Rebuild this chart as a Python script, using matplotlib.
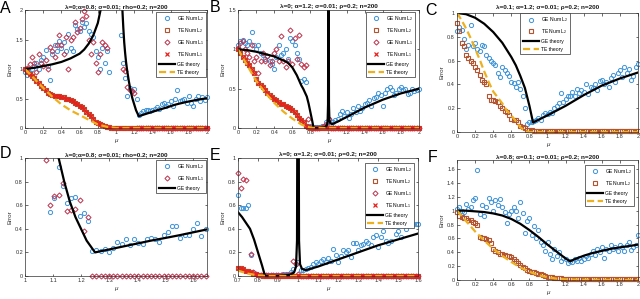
import numpy as np
import matplotlib
matplotlib.use('Agg')
import matplotlib.pyplot as plt
from matplotlib.ticker import FuncFormatter, MultipleLocator
from matplotlib.patches import Rectangle

plt.rcParams['font.family'] = ['Liberation Sans', 'DejaVu Sans']
plt.rcParams['mathtext.fontset'] = 'custom'
plt.rcParams['mathtext.rm'] = 'Liberation Sans'
plt.rcParams['mathtext.it'] = 'Liberation Sans:italic'

# mu grids
mu_full = np.linspace(0, 2, 81)
mu_d = np.linspace(1.075, 1.645, 39)
mu_e = np.linspace(0.7, 1.6, 73)

# ---- panel A (lambda=0, alpha=0.8) ----
a_ge_l2 = [0.95, 0.90, 0.93, 1.00, 1.05, 1.10, 1.00, 1.15,
           1.20, 1.33, 1.05, 0.82, 1.25, 1.40, 1.30, 1.47,
           1.35, 1.45, 1.30, 1.60, 1.35, 1.30, 1.75, 1.68,
           1.65, 1.80, 1.72, 1.78, 1.65, 1.60, 1.55, 1.30,
           1.20, 1.00, 1.35, 1.10, 1.30, 0.95, 2.50, 2.50,
           2.50, 2.50, 1.58, 1.10, 0.85, 0.54, 0.68, 0.62,
           0.66, 0.50, 0.22, 0.25, 0.28, 0.30, 0.30, 0.28,
           0.30, 0.32, 0.35, 0.33, 0.40, 0.42, 0.38, 0.40,
           0.45, 0.38, 0.50, 0.65, 0.45, 0.48, 0.50, 0.42,
           0.55, 0.42, 0.38, 0.50, 0.55, 0.45, 0.53, 0.48,
           0.52]
a_ge_l1 = [1.00, 1.02, 1.08, 1.20, 1.10, 0.95, 1.25, 1.10,
           1.05, 1.15, 1.00, 1.38, 1.30, 1.20, 1.40, 1.58,
           1.40, 1.25, 1.55, 1.00, 1.50, 1.55, 1.80, 1.62,
           1.70, 1.85, 1.98, 1.90, 1.50, 1.25, 1.45, 1.10,
           0.95, 1.25, 1.45, 1.40, 1.35, 2.50, 2.50, 2.50,
           2.50, 2.50, 2.50, 1.00, 0.96, 0.70, 0.65, 0.62,
           0.59] + [0.0] * 32
a_te = [1.00, 0.95, 0.92, 0.88, 0.84, 0.80, 0.76, 0.72,
        0.68, 0.64, 0.60, 0.58, 0.56, 0.55, 0.54, 0.54,
        0.53, 0.52, 0.50, 0.49, 0.47, 0.45, 0.42, 0.40,
        0.37, 0.35, 0.32, 0.27, 0.24, 0.20, 0.15, 0.11,
        0.08, 0.06, 0.05, 0.03, 0.02, 0.01, 0.005, 0.0] + [0.0] * 41
a08_th_mu = [0, 0.1, 0.2, 0.3, 0.4, 0.5, 0.6, 0.65, 0.7, 0.75, 0.8, 0.83, 0.86, 0.95,
             1.06, 1.07, 1.08, 1.09, 1.1, 1.11, 1.12, 1.13, 1.14, 1.16, 1.18, 1.2, 1.22, 1.25,
             1.3, 1.35, 1.4, 1.45, 1.5, 1.55, 1.6, 1.65, 1.7, 1.8, 1.9, 2.0]
a08_th = [1.0, 1.02, 1.05, 1.08, 1.12, 1.18, 1.26, 1.33, 1.43, 1.57, 1.78, 2.0, 2.4, np.nan,
          2.6, 2.0, 1.7, 1.45, 1.27, 1.12, 1.0, 0.9, 0.8, 0.63, 0.5, 0.4, 0.3, 0.2,
          0.225, 0.25, 0.275, 0.3, 0.322, 0.345, 0.37, 0.395, 0.415, 0.45, 0.48, 0.505]
a_te_th_mu = [0, 0.1, 0.2, 0.3, 0.4, 0.5, 0.6, 0.7, 0.8, 0.9, 1.0, 2.0]
a_te_th = [1.0, 0.84, 0.68, 0.53, 0.40, 0.30, 0.22, 0.14, 0.06, 0.02, 0.0, 0.0]

# ---- panel B (lambda=0, alpha=1.2) ----
b_ge_l2 = [1.05, 1.10, 1.12, 1.08, 1.05, 1.10, 1.22, 1.05,
           1.00, 1.05, 0.95, 0.93, 0.88, 0.92, 0.85, 0.82,
           0.75, 0.90, 1.05, 0.93, 0.95, 1.00, 0.88, 1.15,
           1.10, 1.05, 0.95, 0.88, 0.60, 0.62, 0.58, 0.03,
           0.02, 0.01, 0.01, 0.01, 0.01, 0.02, 0.03, 0.08,
           0.12, 0.05, 0.08, 0.10, 0.12, 0.18, 0.22, 0.15,
           0.20, 0.13, 0.18, 0.25, 0.20, 0.28, 0.22, 0.25,
           0.30, 0.32, 0.35, 0.28, 0.38, 0.40, 0.45, 0.42,
           0.28, 0.45, 0.50, 0.52, 0.48, 0.42, 0.45, 0.50,
           0.52, 0.48, 0.50, 0.43, 0.45, 0.50, 0.47, 0.48,
           0.50]
b_ge_l1 = [1.02, 1.08, 1.10, 1.00, 0.95, 0.90, 1.05, 0.85,
           0.90, 0.70, 0.85, 0.95, 0.85, 0.92, 0.80, 0.85,
           0.95, 1.00, 0.85, 1.17, 0.85, 0.78, 0.85, 1.25,
           0.82, 1.15, 0.88, 1.18, 0.82, 0.78, 0.80, 0.12,
           0.01, 0.005, 0.005, 0.005, 0.005, 0.01, 0.02, 0.05,
           0.12] + [0.0] * 40
b_te = [1.00, 0.95, 0.90, 0.87, 0.83, 0.80, 0.75, 0.70,
        0.62, 0.57, 0.55, 0.52, 0.48, 0.45, 0.42, 0.40,
        0.37, 0.35, 0.33, 0.31, 0.30, 0.28, 0.27, 0.25,
        0.23, 0.20, 0.17, 0.13, 0.10, 0.07, 0.03, 0.015,
        0.005] + [0.0] * 48
a12_th_mu = [0, 0.1, 0.2, 0.3, 0.4, 0.5, 0.55, 0.6, 0.65, 0.7, 0.72, 0.74, 0.76, 0.78, 0.8,
             0.82, 0.835, 0.9, 0.96, 0.98, 0.99, 0.995, 0.999, 1.001, 1.005, 1.01, 1.02,
             1.04, 1.1, 1.2, 1.3, 1.4, 1.5, 1.6, 1.7, 1.8, 1.9, 2.0]
a12_th = [1.0, 0.99, 0.97, 0.94, 0.91, 0.86, 0.83, 0.77, 0.67, 0.54, 0.50, 0.45, 0.40, 0.31, 0.20,
          0.09, 0.0, 0.0, 0.01, 0.03, 0.08, 0.3, 3.0, 3.0, 0.3, 0.1, 0.06,
          0.05, 0.08, 0.14, 0.20, 0.26, 0.31, 0.36, 0.40, 0.44, 0.47, 0.50]
a12_te_th_mu = [0, 0.1, 0.2, 0.3, 0.4, 0.5, 0.6, 0.7, 0.75, 0.8, 0.85, 2.0]
a12_te_th = [1.0, 0.80, 0.60, 0.45, 0.32, 0.21, 0.12, 0.045, 0.02, 0.005, 0.0, 0.0]

# ---- panel C (lambda=0.1, alpha=1.2) ----
c_ge_l2 = [0.85, 0.88, 0.86, 0.78, 0.70, 0.73, 0.90, 0.72,
           0.75, 0.70, 0.68, 0.73, 0.72, 0.65, 0.62, 0.60,
           0.58, 0.56, 0.50, 0.46, 0.55, 0.52, 0.50, 0.47,
           0.42, 0.41, 0.38, 0.42, 0.36, 0.30, 0.20, 0.07,
           0.08, 0.08, 0.09, 0.10, 0.12, 0.10, 0.14, 0.16,
           0.15, 0.17, 0.16, 0.20, 0.22, 0.24, 0.33, 0.25,
           0.28, 0.30, 0.30, 0.34, 0.30, 0.36, 0.33, 0.35,
           0.34, 0.40, 0.32, 0.38, 0.37, 0.40, 0.35, 0.43,
           0.44, 0.40, 0.42, 0.38, 0.45, 0.48, 0.42, 0.50,
           0.52, 0.46, 0.55, 0.50, 0.53, 0.44, 0.47, 0.55,
           0.57]
c_te_l2 = [0.92, 0.85, 0.75, 0.72, 0.65, 0.62, 0.60, 0.58,
           0.55, 0.52, 0.48, 0.44, 0.42, 0.40, 0.30, 0.27,
           0.27, 0.26, 0.25, 0.22, 0.20, 0.18, 0.17, 0.14,
           0.11, 0.10, 0.10, 0.08, 0.05, 0.04, 0.03, 0.02,
           0.02, 0.015] + [0.01] * 47
c_th_mu = [0, 0.1, 0.2, 0.3, 0.4, 0.5, 0.6, 0.65, 0.7, 0.75, 0.8, 0.84, 1.0, 1.2, 1.4, 1.6, 1.8, 2.0]
c_th = [1.0, 0.99, 0.96, 0.91, 0.84, 0.75, 0.63, 0.56, 0.47, 0.37, 0.22, 0.08,
        0.14, 0.22, 0.31, 0.39, 0.45, 0.50]
c_te_th_mu = [0, 0.05, 0.1, 0.15, 0.2, 0.25, 0.3, 0.35, 0.4, 0.45, 0.5, 0.55, 0.6, 0.65, 0.7, 0.75, 0.8, 2.0]
c_te_th = [1.0, 0.94, 0.87, 0.79, 0.70, 0.61, 0.51, 0.42, 0.34, 0.29, 0.24, 0.18, 0.14, 0.09, 0.04, 0.01, 0.0, 0.0]

# ---- panel D (zoom of A) ----
d_ge_l2 = [np.nan, 0.54, 0.66, 0.92, 0.76, 0.62, 0.66, 0.67, 0.51, 0.53, 0.47,
           0.21, 0.22, 0.21, 0.23, 0.20, 0.24, 0.29, 0.27, 0.31, 0.26, 0.31, 0.28,
           0.27, 0.31, 0.32, 0.31, 0.29, 0.35, 0.37, 0.42, 0.42, 0.32, 0.35, 0.35,
           0.40, 0.45, 0.34, 0.40]
d_ge_l1 = [0.985, 0.60, 0.68, 0.69, 0.79, 0.55, 0.56, 0.57, 0.64, 0.38, 0.50] + [0.0] * 28

# ---- panel E (zoom of B) ----
e_ge_l2 = [0.69, 0.58, 0.58, 0.58, 0.60, 0.18, 0.03, 0.02,
           0.01, 0.01, 0.01, 0.01, 0.01, 0.01, 0.01, 0.01,
           0.01, 0.01, 0.015, 0.02, 0.02, 0.03, 0.06, 0.10,
           0.12, 0.05, 0.05, 0.06, 0.07, 0.08, 0.10, 0.12,
           0.10, 0.13, 0.14, 0.12, 0.15, 0.13, 0.23, 0.18,
           0.12, 0.17, 0.22, 0.20, 0.22, 0.16, 0.28, 0.28,
           0.22, 0.26, 0.27, 0.30, 0.28, 0.26, 0.33, 0.35,
           0.25, 0.33, 0.38, 0.30, 0.28, 0.30, 0.42, 0.36,
           0.38, 0.33, 0.45, 0.40, 0.50, 0.46, 0.44, 0.44,
           0.44]
e_ge_l1 = [0.87, 0.75, 0.82, 0.81, np.nan, 0.19, 0.03, 0.02,
           0.005, 0.005, 0.005, 0.005, 0.005, 0.005, 0.005, 0.005,
           0.005, 0.005, 0.005, 0.005, 0.01, 0.02, 0.13, 0.10,
           0.02] + [0.0] * 48
e_te = [0.07, 0.07, 0.06, 0.04, 0.04, 0.03, 0.02, 0.015, 0.01, 0.005] + [0.0] * 63

# ---- panel F (lambda=0.8, alpha=0.1) ----
f_ge_l2 = [1.02, 1.05, 1.00, 0.98, 1.10, 1.03, 1.05, 1.15,
           1.18, 1.58, 0.95, 1.08, 0.92, 1.05, 1.18, 1.12,
           1.00, 1.15, 1.08, 1.17, 1.05, 0.98, 0.82, 0.95,
           1.00, 1.05, 1.00, 0.90, 1.13, 0.96, 0.68, 0.85,
           0.90, 0.65, 0.78, 0.60, 0.72, 0.55, 0.50, 0.42,
           0.55, 0.38, 0.30, 0.45, 0.35, 0.40, 0.28, 0.32,
           0.30, 0.25, 0.27, 0.26, 0.30, 0.28, 0.32, 0.27,
           0.30, 0.35, 0.32, 0.38, 0.42, 0.36, 0.45, 0.40,
           0.48, 0.32, 0.45, 0.42, 0.50, 0.45, 0.48, 0.42,
           0.50, 0.47, 0.42, 0.50, 0.55, 0.43, 0.48, 0.50,
           0.65]
f_te_l2 = [0.98, 0.93, 0.91, 0.90, 0.89, 0.87, 0.86, 0.84,
           0.82, 0.80, 0.62, 0.61, 0.60, 0.59, 0.57, 0.54,
           0.45, 0.42, 0.40, 0.38, 0.37, 0.36, 0.35, 0.34,
           0.33, 0.31, 0.27, 0.24, 0.21, 0.19, 0.17, 0.15,
           0.13, 0.12, 0.11, 0.10, 0.09, 0.08, 0.07, 0.06,
           0.05, 0.045, 0.04, 0.035, 0.03, 0.03, 0.025, 0.02,
           0.02, 0.02, 0.018, 0.016, 0.015, 0.014, 0.013, 0.012] + [0.01] * 25
f_th_mu = [0, 0.1, 0.2, 0.3, 0.4, 0.5, 0.6, 0.7, 0.8, 0.9, 1.0, 1.1, 1.2, 1.25,
           1.3, 1.4, 1.5, 1.6, 1.7, 1.8, 1.9, 2.0]
f_th = [1.0, 1.0, 0.99, 0.98, 0.96, 0.93, 0.88, 0.81, 0.72, 0.62, 0.51, 0.41, 0.31, 0.27,
        0.30, 0.35, 0.39, 0.42, 0.45, 0.47, 0.49, 0.51]
f_te_th_mu = [0, 0.1, 0.2, 0.3, 0.4, 0.5, 0.6, 0.7, 0.8, 0.9, 1.0, 1.1, 1.2, 1.4, 2.0]
f_te_th = [1.0, 0.85, 0.70, 0.57, 0.45, 0.35, 0.26, 0.18, 0.12, 0.07, 0.04, 0.02, 0.01, 0.005, 0.0]

title_a08 = 'λ=0;α=0.8; σ=0.01; rho=0.2; n=200'
title_a12 = 'λ=0; α=1.2; σ=0.01; ρ=0.2; n=200'
title_c = 'λ=0.1; α=1.2; σ=0.01; ρ=0.2; n=200'
title_f = 'λ=0.8; α=0.1; σ=0.01; ρ=0.2; n=200'

C_GE2 = '#3D94D8'
C_TE2 = '#B5532F'
C_GE1 = '#C0304A'
C_TE1 = '#E8201C'
C_TTH = '#EDB120'
AX_COL = '#303030'


def masked(mu, vals, xlim, ylim):
    mu = np.asarray(mu, float)
    v = np.asarray(vals, float)
    bad = (v > ylim[1]) | (mu < xlim[0] - 1e-9) | (mu > xlim[1] + 1e-9)
    return mu, np.where(bad, np.nan, v)


def panel(rect, title, xlim, ylim, xstep, ystep, series, theory, legend_kw, title_pad=1.5):
    ax = fig.add_axes(rect)
    # clip box: the axes, extended a little below so marks at zero stay whole
    clip = Rectangle((0, -0.03), 1, 1.03, transform=ax.transAxes, facecolor='none', edgecolor='none')
    handles = []
    for mu, vals, kind in series:
        x, y = masked(mu, vals, xlim, ylim)
        if kind == 'ge2':
            h, = ax.plot(x, y, 'o', ms=3.0, mfc='none', mec=C_GE2, mew=0.7, clip_on=False,
                         label='GE Num L$_2$')
        elif kind == 'te2':
            h, = ax.plot(x, y, 's', ms=2.4, mfc='none', mec=C_TE2, mew=0.8, clip_on=False,
                         label='TE Num L$_2$')
        elif kind == 'ge1':
            h, = ax.plot(x, y, 'D', ms=2.6, mfc='none', mec=C_GE1, mew=0.7, clip_on=False,
                         label='GE Num L$_1$')
        else:
            h, = ax.plot(x, y, 'x', ms=2.6, mec=C_TE1, mew=0.9, clip_on=False,
                         label='TE Num L$_1$')
        handles.append(h)
    ge_mu, ge_v, te_mu, te_v = theory
    h, = ax.plot(ge_mu, ge_v, '-', color='black', lw=1.6, label='GE theory')
    h.set_clip_path(clip)
    handles.append(h)
    if te_mu is not None:
        h, = ax.plot(te_mu, te_v, '--', color=C_TTH, lw=1.6, dashes=(3.2, 1.6),
                     label='TE theory')
        h.set_clip_path(clip)
        handles.append(h)
    ax.set_xlim(xlim)
    ax.set_ylim(ylim)
    ax.xaxis.set_major_locator(MultipleLocator(xstep))
    ax.yaxis.set_major_locator(MultipleLocator(ystep))
    fmt = FuncFormatter(lambda v, p: '%g' % round(v, 6))
    ax.xaxis.set_major_formatter(fmt)
    ax.yaxis.set_major_formatter(fmt)
    ax.tick_params(direction='in', length=1.8, width=0.5, labelsize=4, colors=AX_COL, pad=1.5,
                   top=True, right=True)
    for s in ax.spines.values():
        s.set_linewidth(0.5)
        s.set_color(AX_COL)
    ax.set_title(title, fontsize=4.6, fontweight='bold', pad=title_pad, color='#1a1a1a')
    ax.set_xlabel('μ', fontsize=4.5, style='italic', labelpad=2, color=AX_COL)
    ax.set_ylabel('Error', fontsize=4.5, labelpad=2, color=AX_COL)
    leg = ax.legend(handles=handles, fontsize=3.6, frameon=True, fancybox=False, framealpha=1,
                    edgecolor=AX_COL, handlelength=3.2, handletextpad=0.4, labelspacing=0.6,
                    borderpad=0.45, borderaxespad=0, **legend_kw)
    leg.get_frame().set_linewidth(0.5)
    return ax


fig = plt.figure(figsize=(6.4, 2.99), dpi=100)

panel([0.0391, 0.5719, 0.2844, 0.3946], title_a08, (0, 2), (0, 2), 0.2, 0.5,
      [(mu_full, a_ge_l2, 'ge2'), (mu_full, a_te, 'te2'), (mu_full, a_ge_l1, 'ge1'),
       (mu_full, a_te, 'te1')],
      (a08_th_mu, a08_th, a_te_th_mu, a_te_th),
      dict(loc='upper right', bbox_to_anchor=(0.995, 0.985)))

panel([0.3719, 0.5719, 0.2828, 0.3946], title_a12, (0, 2), (0, 1.5), 0.2, 0.5,
      [(mu_full, b_ge_l2, 'ge2'), (mu_full, b_te, 'te2'), (mu_full, b_ge_l1, 'ge1'),
       (mu_full, b_te, 'te1')],
      (a12_th_mu, a12_th, a12_te_th_mu, a12_te_th),
      dict(loc='upper right', bbox_to_anchor=(0.98, 0.985)))

panel([0.7141, 0.5585, 0.2828, 0.398], title_c, (0, 2), (0, 1), 0.2, 0.2,
      [(mu_full, c_ge_l2, 'ge2'), (mu_full, c_te_l2, 'te2')],
      (c_th_mu, c_th, c_te_th_mu, c_te_th),
      dict(loc='upper left', bbox_to_anchor=(0.35, 1.0)), title_pad=3)

panel([0.0391, 0.0769, 0.2844, 0.3946], title_a08, (1, 1.65), (0, 1), 0.1, 0.2,
      [(mu_d, d_ge_l2, 'ge2'), (mu_d, d_ge_l1, 'ge1')],
      (a08_th_mu, a08_th, None, None),
      dict(loc='upper right', bbox_to_anchor=(0.995, 0.985)))

panel([0.3719, 0.0769, 0.2813, 0.3946], title_a12, (0.7, 1.6), (0, 1), 0.1, 0.2,
      [(mu_e, e_ge_l2, 'ge2'), (mu_e, e_te, 'te2'), (mu_e, e_ge_l1, 'ge1'),
       (mu_e, e_te, 'te1')],
      (a12_th_mu, a12_th, a12_te_th_mu, a12_te_th),
      dict(loc='upper right', bbox_to_anchor=(0.98, 0.96)))

panel([0.7141, 0.0635, 0.2828, 0.4013], title_f, (0, 2), (0, 1.73), 0.2, 0.2,
      [(mu_full, f_ge_l2, 'ge2'), (mu_full, f_te_l2, 'te2')],
      (f_th_mu, f_th, f_te_th_mu, f_te_th),
      dict(loc='upper right', bbox_to_anchor=(0.98, 0.96)), title_pad=0.8)

# panel letters
for letter, x, y in [('A', 0.0, 0.957), ('B', 0.328, 0.96), ('C', 0.664, 0.95),
                     ('D', 0.0, 0.472), ('E', 0.328, 0.465), ('F', 0.669, 0.458)]:
    fig.text(x, y, letter, fontsize=11.5, va='baseline', ha='left', color='black')

fig.savefig('out.png', dpi=100, facecolor='white')
